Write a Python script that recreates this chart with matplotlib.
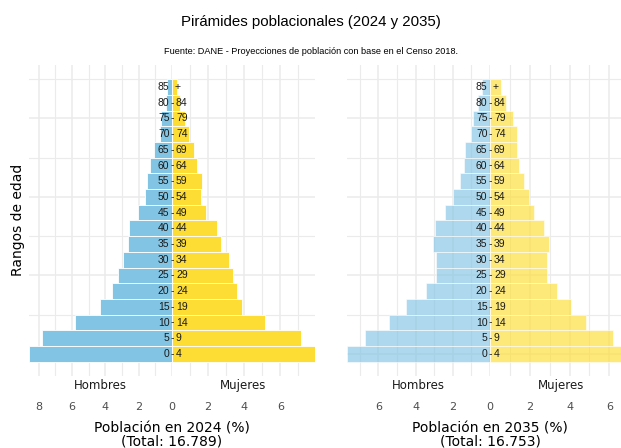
import numpy as np
import matplotlib
matplotlib.use("Agg")
import matplotlib.pyplot as plt
from matplotlib.transforms import offset_copy

# grupos de edad (inicio y fin)
age_lo = [0, 5, 10, 15, 20, 25, 30, 35, 40, 45, 50, 55, 60, 65, 70, 75, 80, 85]
age_hi = ["4", "9", "14", "19", "24", "29", "34", "39", "44", "49",
          "54", "59", "64", "69", "74", "79", "84", "+"]

# porcentajes
men_2024 = [8.58, 7.82, 5.80, 4.32, 3.62, 3.24, 2.96, 2.66, 2.60, 2.02,
            1.64, 1.48, 1.32, 1.06, 0.72, 0.64, 0.36, 0.32]
women_2024 = [7.92, 7.15, 5.13, 3.88, 3.58, 3.40, 3.14, 2.70, 2.48, 1.89,
              1.63, 1.65, 1.39, 1.20, 0.96, 0.74, 0.46, 0.30]
men_2035 = [7.69, 6.72, 5.42, 4.51, 3.45, 2.93, 2.89, 3.04, 2.98, 2.41,
            1.99, 1.60, 1.40, 1.33, 1.02, 0.93, 0.65, 0.43]
women_2035 = [7.19, 6.18, 4.81, 4.07, 3.37, 2.88, 2.88, 2.98, 2.70, 2.21,
              1.98, 1.73, 1.44, 1.35, 1.36, 1.14, 0.79, 0.54]

years = ["2024", "2035"]
totals = ["16.789", "16.753"]

blue = "#82c4e4"
yellow = "#fddd33"
grid = "#ebebeb"

W, H = 621, 448
fig = plt.figure(figsize=(W / 100, H / 100), dpi=100)


def box(x0, x1, y0=65, y1=376):
    return [x0 / W, 1 - y1 / H, (x1 - x0) / W, (y1 - y0) / H]


panels = [
    (men_2024, women_2024, 29, 172, 315, 1.0),
    (men_2035, women_2035, 347, 490, 633, 0.65),
]

for k, (men, women, xa, xm, xb, alpha) in enumerate(panels):
    axm = fig.add_axes(box(xa, xm))
    axw = fig.add_axes(box(xm, xb))
    men = np.array(men)
    women = np.array(women)

    axm.barh(age_lo, -men, height=5, color=blue, alpha=alpha,
             edgecolor="white", linewidth=0.6, zorder=2)
    axw.barh(age_lo, women, height=5, color=yellow, alpha=alpha,
             edgecolor="white", linewidth=0.6, zorder=2)

    axm.set_xlim(-men.max(), 0)
    axw.set_xlim(0, women.max())

    mt = np.arange(0, men.max() + 0.01, 2)
    axm.set_xticks(-mt)
    axm.set_xticklabels([f"{t:g}" for t in mt])
    axm.set_xticks(-np.arange(1, men.max(), 2), minor=True)
    wt = np.arange(2, women.max() + 0.01, 2)
    axw.set_xticks(wt)
    axw.set_xticklabels([f"{t:g}" for t in wt])
    axw.set_xticks(np.arange(1, women.max(), 2), minor=True)

    for ax, lab in [(axm, "Hombres"), (axw, "Mujeres")]:
        ax.set_ylim(-7, 92)
        ax.set_yticks([0, 25, 50, 75])
        ax.set_yticks([12.5, 37.5, 62.5, 87.5], minor=True)
        ax.set_yticklabels([])
        ax.tick_params(which="both", length=0)
        ax.tick_params(axis="x", pad=19, labelsize=8, labelcolor="#4d4d4d")
        ax.tick_params(axis="y", left=False, labelleft=False)
        ax.grid(True, which="major", color=grid, lw=1.1, zorder=0)
        ax.grid(True, which="minor", color=grid, lw=0.8, zorder=0)
        ax.set_axisbelow(True)
        for s in ax.spines.values():
            s.set_visible(False)
        ax.text(0.5, -9 / 311, lab, transform=ax.transAxes, ha="center",
                va="center", fontsize=8.5, color="#1a1a1a")

    # etiquetas de edad en el centro
    tl = offset_copy(axw.transData, fig=fig, x=-2.5, y=0, units="dots")
    tr = offset_copy(axw.transData, fig=fig, x=4.0, y=0, units="dots")
    tp = offset_copy(axw.transData, fig=fig, x=2.5, y=0, units="dots")
    for lo, hi in zip(age_lo, age_hi):
        kw = dict(fontsize=7.5, family="Liberation Sans", color="#1a1a1a",
                  va="center", clip_on=False, zorder=5)
        if hi == "+":
            axw.text(0, lo, str(lo), transform=tl, ha="right", **kw)
            axw.text(0, lo, "+", transform=tp, ha="left", **kw)
        else:
            axw.text(0, lo, str(lo), transform=tl, ha="right", **kw)
            axw.text(0, lo, "-", transform=axw.transData, ha="center", **kw)
            axw.text(0, lo, hi, transform=tr, ha="left", **kw)

    fig.text(xm / W, 1 - 435 / H,
             f"Población en {years[k]} (%)\n(Total: {totals[k]})",
             ha="center", va="center", fontsize=10, color="black",
             linespacing=0.95)

fig.text(18 / W, 1 - 220 / H, "Rangos de edad", rotation=90,
         ha="center", va="center", fontsize=10)
fig.text(0.5, 1 - 22 / H, "Pirámides poblacionales (2024 y 2035)",
         ha="center", va="center", fontsize=10.8, family="Liberation Sans")
fig.text(0.5, 1 - 52 / H,
         "Fuente: DANE - Proyecciones de población con base en el Censo 2018.",
         ha="center", va="center", fontsize=6.6, family="Liberation Sans")

fig.savefig("out.png", dpi=100)
